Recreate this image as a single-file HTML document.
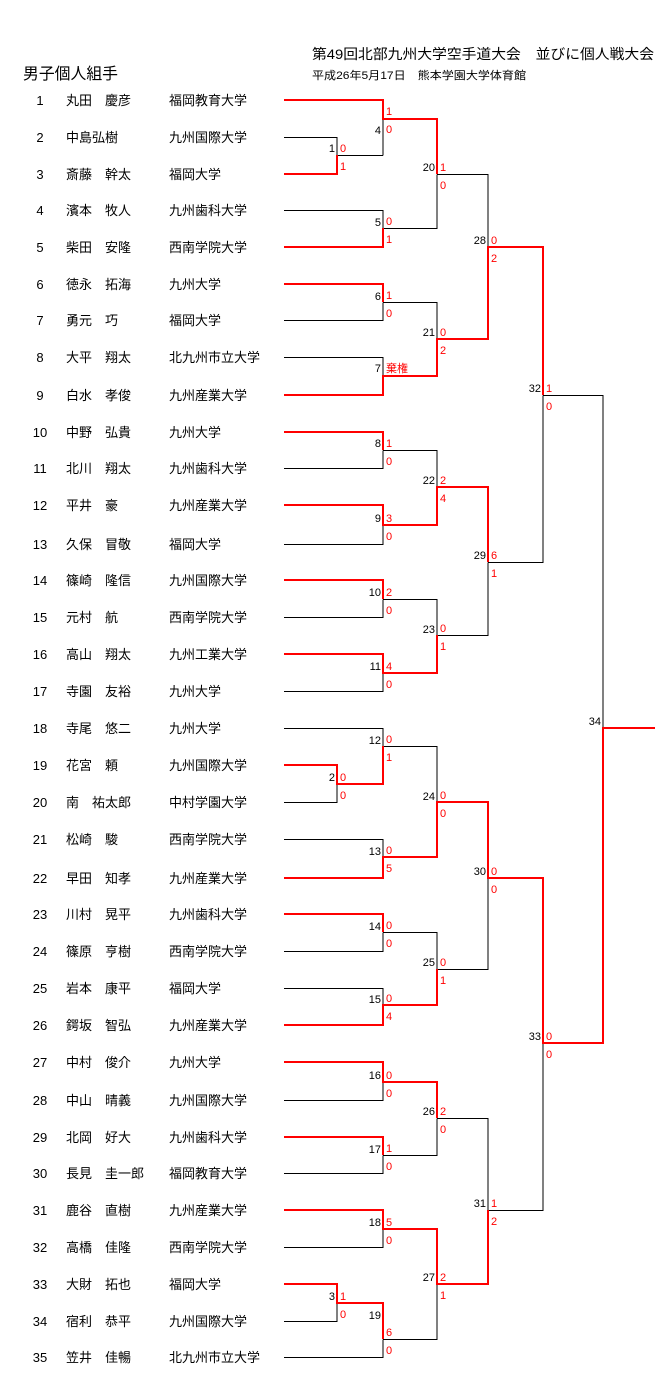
<!DOCTYPE html>
<html><head><meta charset="utf-8"><style>
html,body{margin:0;padding:0;background:#fff;}
svg{display:block;}
text{font-family:"Liberation Sans","Noto Sans CJK JP",sans-serif;}
.p{font-size:13px;fill:#000;}
.s{font-size:11px;fill:#f00;}
.l{font-size:11px;fill:#000;text-anchor:end;}
.k{stroke:#000;stroke-width:1;fill:none;}
.r{stroke:#f00;stroke-width:2;fill:none;}
</style></head><body>
<svg width="657" height="1389" viewBox="0 0 657 1389" xmlns="http://www.w3.org/2000/svg">
<text x="312" y="59" style="font-size:14px" textLength="342" lengthAdjust="spacingAndGlyphs">第49回北部九州大学空手道大会　並びに個人戦大会</text>
<text x="312" y="79" style="font-size:11px" textLength="214" lengthAdjust="spacingAndGlyphs">平成26年5月17日　熊本学園大学体育館</text>
<text x="23" y="79" style="font-size:16px" textLength="95" lengthAdjust="spacingAndGlyphs">男子個人組手</text>

<g class="p">
<text x="40" y="105" text-anchor="middle">1</text><text x="66" y="105">丸田　慶彦</text><text x="169" y="105">福岡教育大学</text>
<text x="40" y="142" text-anchor="middle">2</text><text x="66" y="142">中島弘樹</text><text x="169" y="142">九州国際大学</text>
<text x="40" y="179" text-anchor="middle">3</text><text x="66" y="179">斎藤　幹太</text><text x="169" y="179">福岡大学</text>
<text x="40" y="215" text-anchor="middle">4</text><text x="66" y="215">濱本　牧人</text><text x="169" y="215">九州歯科大学</text>
<text x="40" y="252" text-anchor="middle">5</text><text x="66" y="252">柴田　安隆</text><text x="169" y="252">西南学院大学</text>
<text x="40" y="289" text-anchor="middle">6</text><text x="66" y="289">徳永　拓海</text><text x="169" y="289">九州大学</text>
<text x="40" y="325" text-anchor="middle">7</text><text x="66" y="325">勇元　巧</text><text x="169" y="325">福岡大学</text>
<text x="40" y="362" text-anchor="middle">8</text><text x="66" y="362">大平　翔太</text><text x="169" y="362">北九州市立大学</text>
<text x="40" y="400" text-anchor="middle">9</text><text x="66" y="400">白水　孝俊</text><text x="169" y="400">九州産業大学</text>
<text x="40" y="437" text-anchor="middle">10</text><text x="66" y="437">中野　弘貴</text><text x="169" y="437">九州大学</text>
<text x="40" y="473" text-anchor="middle">11</text><text x="66" y="473">北川　翔太</text><text x="169" y="473">九州歯科大学</text>
<text x="40" y="510" text-anchor="middle">12</text><text x="66" y="510">平井　豪</text><text x="169" y="510">九州産業大学</text>
<text x="40" y="549" text-anchor="middle">13</text><text x="66" y="549">久保　冒敬</text><text x="169" y="549">福岡大学</text>
<text x="40" y="585" text-anchor="middle">14</text><text x="66" y="585">篠崎　隆信</text><text x="169" y="585">九州国際大学</text>
<text x="40" y="622" text-anchor="middle">15</text><text x="66" y="622">元村　航</text><text x="169" y="622">西南学院大学</text>
<text x="40" y="659" text-anchor="middle">16</text><text x="66" y="659">高山　翔太</text><text x="169" y="659">九州工業大学</text>
<text x="40" y="696" text-anchor="middle">17</text><text x="66" y="696">寺園　友裕</text><text x="169" y="696">九州大学</text>
<text x="40" y="733" text-anchor="middle">18</text><text x="66" y="733">寺尾　悠二</text><text x="169" y="733">九州大学</text>
<text x="40" y="770" text-anchor="middle">19</text><text x="66" y="770">花宮　頼</text><text x="169" y="770">九州国際大学</text>
<text x="40" y="807" text-anchor="middle">20</text><text x="66" y="807">南　祐太郎</text><text x="169" y="807">中村学園大学</text>
<text x="40" y="844" text-anchor="middle">21</text><text x="66" y="844">松崎　駿</text><text x="169" y="844">西南学院大学</text>
<text x="40" y="883" text-anchor="middle">22</text><text x="66" y="883">早田　知孝</text><text x="169" y="883">九州産業大学</text>
<text x="40" y="919" text-anchor="middle">23</text><text x="66" y="919">川村　晃平</text><text x="169" y="919">九州歯科大学</text>
<text x="40" y="956" text-anchor="middle">24</text><text x="66" y="956">篠原　亨樹</text><text x="169" y="956">西南学院大学</text>
<text x="40" y="993" text-anchor="middle">25</text><text x="66" y="993">岩本　康平</text><text x="169" y="993">福岡大学</text>
<text x="40" y="1030" text-anchor="middle">26</text><text x="66" y="1030">鍔坂　智弘</text><text x="169" y="1030">九州産業大学</text>
<text x="40" y="1067" text-anchor="middle">27</text><text x="66" y="1067">中村　俊介</text><text x="169" y="1067">九州大学</text>
<text x="40" y="1105" text-anchor="middle">28</text><text x="66" y="1105">中山　晴義</text><text x="169" y="1105">九州国際大学</text>
<text x="40" y="1142" text-anchor="middle">29</text><text x="66" y="1142">北岡　好大</text><text x="169" y="1142">九州歯科大学</text>
<text x="40" y="1178" text-anchor="middle">30</text><text x="66" y="1178">長見　圭一郎</text><text x="169" y="1178">福岡教育大学</text>
<text x="40" y="1215" text-anchor="middle">31</text><text x="66" y="1215">鹿谷　直樹</text><text x="169" y="1215">九州産業大学</text>
<text x="40" y="1252" text-anchor="middle">32</text><text x="66" y="1252">高橋　佳隆</text><text x="169" y="1252">西南学院大学</text>
<text x="40" y="1289" text-anchor="middle">33</text><text x="66" y="1289">大財　拓也</text><text x="169" y="1289">福岡大学</text>
<text x="40" y="1326" text-anchor="middle">34</text><text x="66" y="1326">宿利　恭平</text><text x="169" y="1326">九州国際大学</text>
<text x="40" y="1362" text-anchor="middle">35</text><text x="66" y="1362">笠井　佳暢</text><text x="169" y="1362">北九州市立大学</text>
</g>

<path class="k" d="
M284 137.5H337V155.5 M337 155.5H383
M284 210.5H383V228.5 M284 320.5H383V302.5 M284 357.5H383V376.5
M284 468.5H383V450.5 M284 544.5H383V525.5 M284 617.5H383V599.5 M284 691.5H383V673.5
M284 728.5H383V746.5 M284 802.5H337V784.5
M284 839.5H383V857.5 M284 951.5H383V932.5 M284 988.5H383V1005.5
M284 1100.5H383V1082.5 M284 1173.5H383V1155.5 M284 1247.5H383V1229.5
M284 1321.5H337V1303.5 M284 1357.5H383V1339.5
M383 155.5V119.5
M383 228.5H437V174.5 M383 302.5H437V339.5 M383 450.5H437V487.5 M383 599.5H437V635.5
M383 746.5H437V802.5 M383 932.5H437V969.5 M383 1155.5H437V1118.5 M383 1339.5H437V1284.5
M437 174.5H488V247.5 M437 635.5H488V562.5 M437 969.5H488V878.5 M437 1118.5H488V1210.5
M488 562.5H543V395.5 M488 1210.5H543V1043.5
M543 395.5H603V728.5
"/>
<path class="r" d="
M284 100H383V119H437V174
M284 174H337V155
M284 247H383V228
M284 284H383V302
M284 395H383V376H437V339H488V247H543V395
M284 432H383V450
M284 505H383V525H437V487H488V562
M284 580H383V599
M284 654H383V673H437V635
M284 765H337V784H383V746
M284 878H383V857H437V802H488V878H543V1043H603V728H655
M284 914H383V932
M284 1025H383V1005H437V969
M284 1062H383V1082H437V1118
M284 1137H383V1155
M284 1210H383V1229H437V1284H488V1210
M284 1284H337V1303H383V1339
"/>

<g class="l">
<text x="335" y="152">1</text><text x="335" y="781">2</text><text x="335" y="1300">3</text>
<text x="381" y="134">4</text><text x="381" y="226">5</text><text x="381" y="300">6</text><text x="381" y="372">7</text>
<text x="381" y="447">8</text><text x="381" y="522">9</text><text x="381" y="596">10</text><text x="381" y="670">11</text>
<text x="381" y="744">12</text><text x="381" y="855">13</text><text x="381" y="930">14</text><text x="381" y="1003">15</text>
<text x="381" y="1079">16</text><text x="381" y="1153">17</text><text x="381" y="1226">18</text><text x="381" y="1319">19</text>
<text x="435" y="171">20</text><text x="435" y="336">21</text><text x="435" y="484">22</text><text x="435" y="633">23</text>
<text x="435" y="800">24</text><text x="435" y="966">25</text><text x="435" y="1115">26</text><text x="435" y="1281">27</text>
<text x="486" y="244">28</text><text x="486" y="559">29</text><text x="486" y="875">30</text><text x="486" y="1207">31</text>
<text x="541" y="392">32</text><text x="541" y="1040">33</text><text x="601" y="725">34</text>
</g>

<g class="s">
<text x="340" y="152">0</text><text x="340" y="170">1</text>
<text x="340" y="781">0</text><text x="340" y="799">0</text>
<text x="340" y="1300">1</text><text x="340" y="1318">0</text>
<text x="386" y="115">1</text><text x="386" y="133">0</text>
<text x="386" y="225">0</text><text x="386" y="243">1</text>
<text x="386" y="299">1</text><text x="386" y="317">0</text>
<text x="386" y="372">棄権</text>
<text x="386" y="447">1</text><text x="386" y="465">0</text>
<text x="386" y="522">3</text><text x="386" y="540">0</text>
<text x="386" y="596">2</text><text x="386" y="614">0</text>
<text x="386" y="670">4</text><text x="386" y="688">0</text>
<text x="386" y="743">0</text><text x="386" y="761">1</text>
<text x="386" y="854">0</text><text x="386" y="872">5</text>
<text x="386" y="929">0</text><text x="386" y="947">0</text>
<text x="386" y="1002">0</text><text x="386" y="1020">4</text>
<text x="386" y="1079">0</text><text x="386" y="1097">0</text>
<text x="386" y="1152">1</text><text x="386" y="1170">0</text>
<text x="386" y="1226">5</text><text x="386" y="1244">0</text>
<text x="386" y="1336">6</text><text x="386" y="1354">0</text>
<text x="440" y="171">1</text><text x="440" y="189">0</text>
<text x="440" y="336">0</text><text x="440" y="354">2</text>
<text x="440" y="484">2</text><text x="440" y="502">4</text>
<text x="440" y="632">0</text><text x="440" y="650">1</text>
<text x="440" y="799">0</text><text x="440" y="817">0</text>
<text x="440" y="966">0</text><text x="440" y="984">1</text>
<text x="440" y="1115">2</text><text x="440" y="1133">0</text>
<text x="440" y="1281">2</text><text x="440" y="1299">1</text>
<text x="491" y="244">0</text><text x="491" y="262">2</text>
<text x="491" y="559">6</text><text x="491" y="577">1</text>
<text x="491" y="875">0</text><text x="491" y="893">0</text>
<text x="491" y="1207">1</text><text x="491" y="1225">2</text>
<text x="546" y="392">1</text><text x="546" y="410">0</text>
<text x="546" y="1040">0</text><text x="546" y="1058">0</text>
</g>
</svg>
</body></html>
